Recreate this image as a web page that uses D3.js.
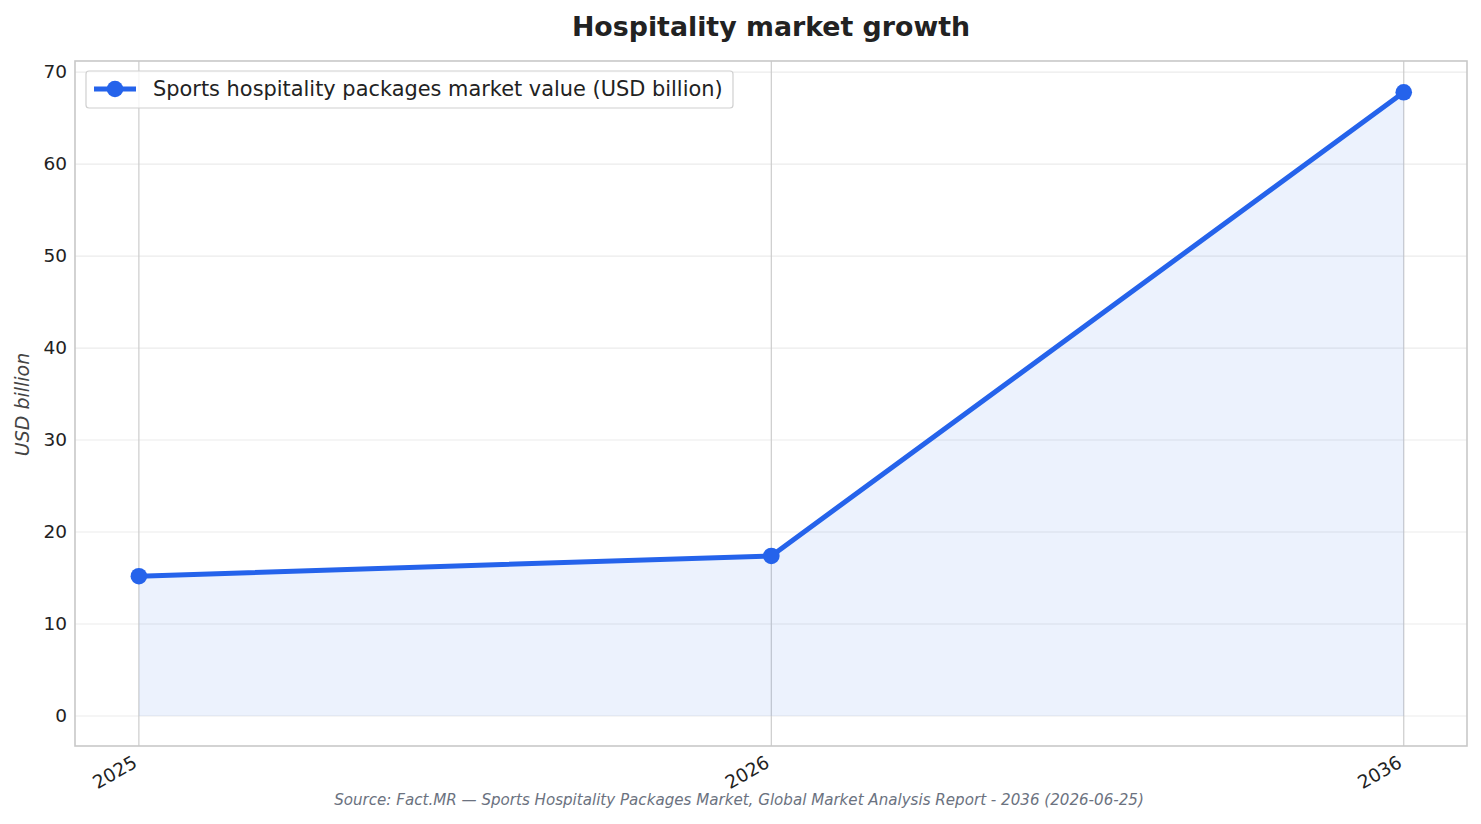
<!DOCTYPE html>
<html><head><meta charset="utf-8">
<script src="https://cdn.jsdelivr.net/npm/d3@7"></script>
<style>body{margin:0;background:#fff;} text{font-family:"DejaVu Sans",sans-serif;}</style>
</head><body><svg id="c" width="1481" height="824"></svg>
<script>
const years = ["2025", "2026", "2036"];
const values = [15.2, 17.4, 67.8];
const yTicks = [0, 10, 20, 30, 40, 50, 60, 70];
const seriesName = "Sports hospitality packages market value (USD billion)";
const titleText = "Hospitality market growth";
const yLabel = "USD billion";
const sourceText = "Source: Fact.MR — Sports Hospitality Packages Market, Global Market Analysis Report - 2036 (2026-06-25)";

const svg = d3.select("#c");
const L = 75, R = 1467, T = 61, B = 746;
const x = d3.scaleLinear().domain([-0.101, 2.1]).range([L, R]);
const y = d3.scaleLinear().domain([-3.26, 71.2]).range([B, T]);
const color = "#2563eb";

// horizontal grid
svg.append("g").selectAll("line").data(yTicks).join("line")
  .attr("x1", L).attr("x2", R).attr("y1", d => y(d)).attr("y2", d => y(d))
  .attr("stroke", "#ebebeb").attr("stroke-width", 1.2);
// vertical grid
svg.append("g").selectAll("line").data(years).join("line")
  .attr("x1", (d, i) => x(i)).attr("x2", (d, i) => x(i)).attr("y1", T).attr("y2", B)
  .attr("stroke", "#cccccc").attr("stroke-width", 1.2);

// area
const area = d3.area().x((d, i) => x(i)).y0(y(0)).y1(d => y(d));
svg.append("path").datum(values).attr("d", area).attr("fill", color).attr("fill-opacity", 0.085);
// line
const line = d3.line().x((d, i) => x(i)).y(d => y(d));
svg.append("path").datum(values).attr("d", line).attr("fill", "none")
  .attr("stroke", color).attr("stroke-width", 5).attr("stroke-linejoin", "round").attr("stroke-linecap", "round");
svg.append("g").selectAll("circle").data(values).join("circle")
  .attr("cx", (d, i) => x(i)).attr("cy", d => y(d)).attr("r", 8.3).attr("fill", color);

// frame
svg.append("rect").attr("x", L).attr("y", T).attr("width", R - L).attr("height", B - T)
  .attr("fill", "none").attr("stroke", "#c8c8c8").attr("stroke-width", 1.6);

// y axis
const yAxis = d3.axisLeft(y).tickValues(yTicks).tickSize(0).tickPadding(8);
const gy = svg.append("g").attr("transform", `translate(${L},0)`).call(yAxis);
gy.select(".domain").remove();
gy.selectAll("text").attr("font-size", 18.5).attr("fill", "#222").attr("font-family", "DejaVu Sans");

// x axis
const xAxis = d3.axisBottom(x).tickValues([0, 1, 2]).tickFormat(i => years[i]).tickSize(0).tickPadding(0);
const gx = svg.append("g").attr("transform", `translate(0,${B})`).call(xAxis);
gx.select(".domain").remove();
gx.selectAll("text").attr("font-size", 18.5).attr("fill", "#222").attr("font-family", "DejaVu Sans")
  .attr("text-anchor", "end").attr("dy", null).attr("y", 0)
  .attr("transform", "translate(-1,20) rotate(-30)");

// y label
svg.append("text").attr("transform", `translate(29,${(T + B) / 2 + 1}) rotate(-90)`)
  .attr("text-anchor", "middle").attr("font-size", 19).attr("font-style", "italic").attr("fill", "#444").text(yLabel);

// title
svg.append("text").attr("x", 771).attr("y", 36).attr("text-anchor", "middle")
  .attr("font-size", 26.8).attr("font-weight", "bold").attr("fill", "#222").text(titleText);

// source
svg.append("text").attr("x", 739).attr("y", 805).attr("text-anchor", "middle")
  .attr("font-size", 15.1).attr("font-style", "italic").attr("fill", "#6b7280").text(sourceText);

// legend
const lg = svg.append("g");
lg.append("rect").attr("x", 86).attr("y", 71).attr("width", 647).attr("height", 37).attr("rx", 3)
  .attr("fill", "#fff").attr("fill-opacity", 0.8).attr("stroke", "#d0d0d0").attr("stroke-width", 1.2);
lg.append("line").attr("x1", 94).attr("x2", 136).attr("y1", 89).attr("y2", 89)
  .attr("stroke", color).attr("stroke-width", 5);
lg.append("circle").attr("cx", 115).attr("cy", 89).attr("r", 8.3).attr("fill", color);
lg.append("text").attr("x", 153).attr("y", 96).attr("font-size", 20.9).attr("fill", "#222").text(seriesName);
</script></body></html>
